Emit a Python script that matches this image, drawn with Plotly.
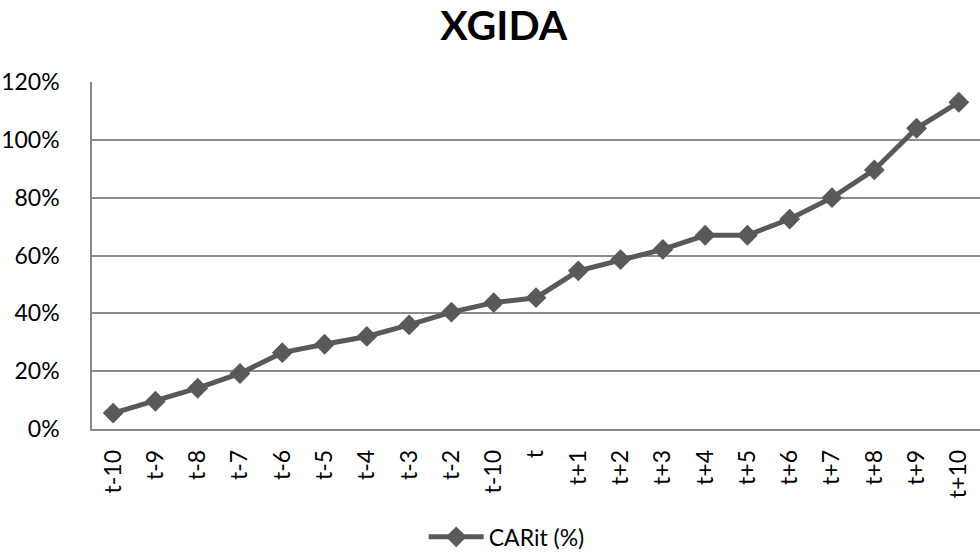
import plotly.graph_objects as go

tick_labels = ["t-10", "t-9", "t-8", "t-7", "t-6", "t-5", "t-4", "t-3", "t-2", "t-10",
               "t", "t+1", "t+2", "t+3", "t+4", "t+5", "t+6", "t+7", "t+8", "t+9", "t+10"]
car_values = [0.055, 0.096, 0.141, 0.192, 0.264, 0.293, 0.320, 0.360, 0.404, 0.437,
              0.454, 0.547, 0.586, 0.621, 0.670, 0.670, 0.726, 0.800, 0.896, 1.040, 1.130]
series_name = "CARit (%)"

positions = list(range(len(tick_labels)))
font_family = "Lato, 'Open Sans', sans-serif"

fig = go.Figure()
fig.add_trace(go.Scatter(
    x=positions, y=car_values, name=series_name, mode="lines+markers",
    line=dict(color="#595959", width=5),
    marker=dict(symbol="diamond", size=16, color="#595959"),
    showlegend=True,
))

fig.update_layout(
    width=980, height=559,
    paper_bgcolor="white", plot_bgcolor="white",
    margin=dict(l=92, r=0, t=82, b=130),
    font=dict(family=font_family, size=23, color="black"),
    title=dict(text="<b>XGIDA</b>", x=0.514, xanchor="center", xref="container",
               y=0.955, yanchor="middle", yref="container",
               font=dict(size=41, family=font_family, color="black")),
    showlegend=True,
    legend=dict(orientation="h", x=0.467, xanchor="center", y=-0.311, yanchor="middle",
                font=dict(size=23), itemwidth=55),
    xaxis=dict(
        tickmode="array", tickvals=positions, ticktext=tick_labels,
        range=[-0.5, len(tick_labels) - 0.5], automargin=False,
        tickangle=-90, showgrid=False, showline=True, linecolor="#888888", linewidth=1.5,
        ticks="", ticklabelstandoff=10, zeroline=False,
        tickfont=dict(size=23),
    ),
    yaxis=dict(
        range=[0, 1.2], dtick=0.2, tickformat=".0%", automargin=False,
        showgrid=True, gridcolor="#8c8c8c", gridwidth=1.5,
        showline=True, linecolor="#888888", linewidth=1.5,
        zeroline=False, ticks="", ticklabelstandoff=26,
        tickfont=dict(size=23),
    ),
)

fig.write_html("out.html", config={"displayModeBar": False},
               post_script="document.body.style.margin='0';")
